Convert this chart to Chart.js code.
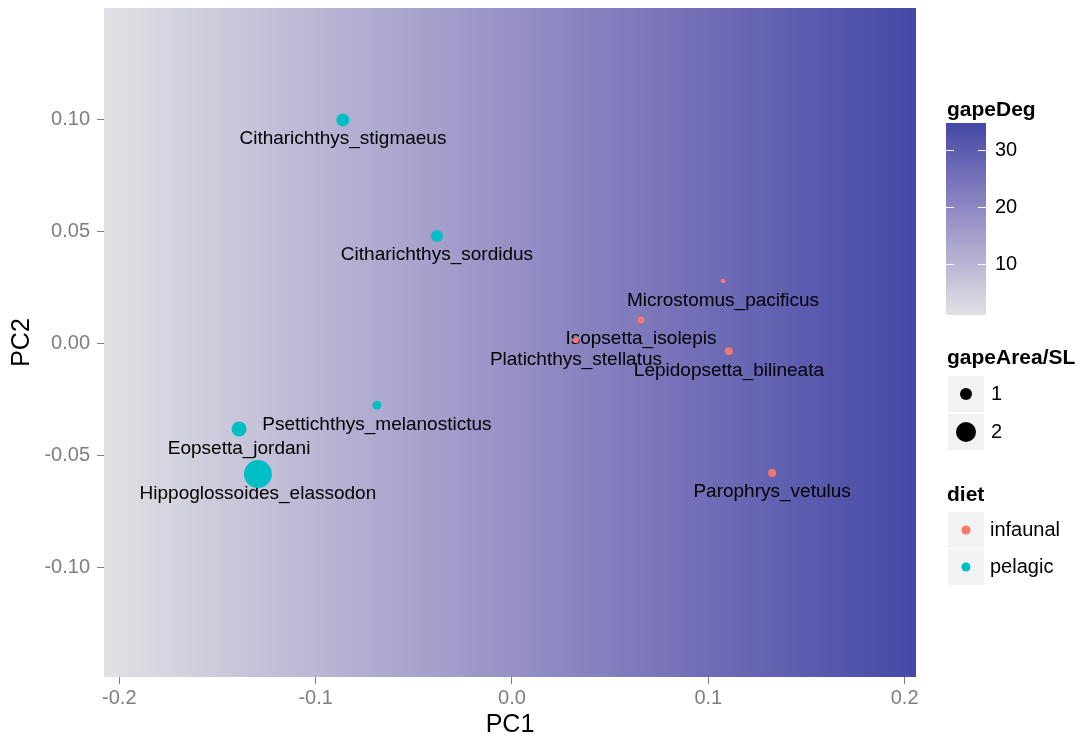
<!DOCTYPE html>
<html><head><meta charset="utf-8">
<script src="https://cdn.jsdelivr.net/npm/chart.js@4"></script>
<style>html,body{margin:0;padding:0;background:#fff}#wrap{width:1081px;height:740px;position:relative}</style>
</head><body><div id="wrap"><canvas id="c" width="1081" height="740"></canvas></div>
<script>
// ---- data ----
const species = ['Citharichthys_stigmaeus','Citharichthys_sordidus','Microstomus_pacificus','Isopsetta_isolepis','Platichthys_stellatus','Lepidopsetta_bilineata','Psettichthys_melanostictus','Eopsetta_jordani','Hippoglossoides_elassodon','Parophrys_vetulus'];
const pc1 = [-0.0861,-0.0382,0.1075,0.0657,0.0326,0.1105,-0.0688,-0.1390,-0.1294,0.1325];
const pc2 = [0.0996,0.0478,0.0277,0.0103,0.0013,-0.0036,-0.0277,-0.0384,-0.0585,-0.0580];
const diet = ['pelagic','pelagic','infaunal','infaunal','infaunal','infaunal','pelagic','pelagic','pelagic','infaunal'];
const gapeArea = [1.08,1.00,0.70,0.73,0.71,0.76,0.80,1.29,3.70,0.76];
const dietLevels = ['infaunal','pelagic'];
const dietColors = ['#F8766D','#00BFC4'];
const sizeBreaks = [1,2];
const xTicks = [-0.2,-0.1,0.0,0.1,0.2];
const yTicks = [-0.10,-0.05,0.00,0.05,0.10];
const gapeTicks = [10,20,30];
const rasterPC1 = [-0.2078,0.2058];   // left / right edge of background raster
const rasterGape = [1.1,34.7];        // gapeDeg at those edges
const gapeRange = [1.1,34.7];         // colourbar limits
const gapeLow = '#e1e1e4', gapeHigh = '#4249a6';
const labelNudge = -0.0086;

const FONT = "'Liberation Sans', Arial, Helvetica, sans-serif";

// ---- colour helpers (Lab interpolation like ggplot) ----
function hex2rgb(h){h=h.replace('#','');return [0,2,4].map(i=>parseInt(h.substr(i,2),16));}
function s2l(c){c/=255;return c<=0.04045?c/12.92:Math.pow((c+0.055)/1.055,2.4);}
function l2s(c){c=c<=0.0031308?12.92*c:1.055*Math.pow(c,1/2.4)-0.055;return Math.round(Math.max(0,Math.min(1,c))*255);}
function rgb2lab(rgb){const [r,g,b]=rgb.map(s2l);
 let X=(0.4124*r+0.3576*g+0.1805*b)/0.95047,Y=(0.2126*r+0.7152*g+0.0722*b),Z=(0.0193*r+0.1192*g+0.9505*b)/1.08883;
 const f=t=>t>0.008856?Math.cbrt(t):7.787*t+16/116;
 const fx=f(X),fy=f(Y),fz=f(Z);return [116*fy-16,500*(fx-fy),200*(fy-fz)];}
function lab2rgb(lab){const fy=(lab[0]+16)/116,fx=fy+lab[1]/500,fz=fy-lab[2]/200;
 const fi=t=>t*t*t>0.008856?t*t*t:(t-16/116)/7.787;
 const X=fi(fx)*0.95047,Y=fi(fy),Z=fi(fz)*1.08883;
 const r=3.2406*X-1.5372*Y-0.4986*Z,g=-0.9689*X+1.8758*Y+0.0415*Z,b=0.0557*X-0.2040*Y+1.0570*Z;
 return 'rgb('+l2s(r)+','+l2s(g)+','+l2s(b)+')';}
const labLo=rgb2lab(hex2rgb(gapeLow)), labHi=rgb2lab(hex2rgb(gapeHigh));
function gapeColor(v){const t=Math.max(0,Math.min(1,(v-gapeRange[0])/(gapeRange[1]-gapeRange[0])));
 return lab2rgb([0,1,2].map(i=>labLo[i]+(labHi[i]-labLo[i])*t));}

// ---- size scale (area palette, range 1..6) ----
const aMin=Math.min(...gapeArea), aMax=Math.max(...gapeArea);
function radiusFor(v){const t=Math.max(0,(v-aMin)/(aMax-aMin));return 2.33*(1+5*Math.sqrt(t));}

const datasets = dietLevels.map((d,k)=>({
  label:d,
  data: species.map((s,i)=>({x:pc1[i],y:pc2[i],area:gapeArea[i],name:s,d:diet[i]})).filter(p=>p.d===d),
  backgroundColor:dietColors[k], borderWidth:0, pointBorderWidth:0,
  pointRadius:c=>radiusFor(c.raw.area), pointHoverRadius:c=>radiusFor(c.raw.area)
}));

const bgPlugin={id:'bg',beforeDraw(chart){
  const {ctx,chartArea:a,scales:{x}}=chart;
  const x0=x.getPixelForValue(rasterPC1[0]), x1=x.getPixelForValue(rasterPC1[1]);
  const g=ctx.createLinearGradient(x0,0,x1,0);
  for(let i=0;i<=20;i++){const t=i/20;g.addColorStop(t,gapeColor(rasterGape[0]+(rasterGape[1]-rasterGape[0])*t));}
  ctx.save();ctx.fillStyle=g;ctx.fillRect(a.left,a.top,a.right-a.left,a.bottom-a.top);ctx.restore();
}};

const labelPlugin={id:'labels',beforeDatasetsDraw(chart){
  const {ctx,scales:{x,y}}=chart;
  ctx.save();ctx.font='19px '+FONT;ctx.fillStyle='#000';ctx.textAlign='center';ctx.textBaseline='middle';
  species.forEach((s,i)=>{ctx.fillText(s,x.getPixelForValue(pc1[i]),y.getPixelForValue(pc2[i]+labelNudge));});
  ctx.restore();
}};

const legendPlugin={id:'legendx',afterDraw(chart){
  const ctx=chart.ctx;ctx.save();
  const L=947;
  // gapeDeg colourbar
  ctx.fillStyle='#000';ctx.font='bold 21px '+FONT;ctx.textAlign='left';ctx.textBaseline='middle';
  ctx.fillText('gapeDeg',L,110);
  const cbL=946,cbR=986,cbT=123,cbB=315;
  const g=ctx.createLinearGradient(0,cbB,0,cbT);
  for(let i=0;i<=20;i++){const t=i/20;g.addColorStop(t,gapeColor(gapeRange[0]+(gapeRange[1]-gapeRange[0])*t));}
  ctx.fillStyle=g;ctx.fillRect(cbL,cbT,cbR-cbL,cbB-cbT);
  ctx.strokeStyle='#fff';ctx.lineWidth=1;ctx.font='20px '+FONT;ctx.fillStyle='#000';
  gapeTicks.forEach(v=>{const yy=Math.round(cbB-(v-gapeRange[0])/(gapeRange[1]-gapeRange[0])*(cbB-cbT))+0.5;
    ctx.beginPath();ctx.moveTo(cbL,yy);ctx.lineTo(cbL+8,yy);ctx.moveTo(cbR-8,yy);ctx.lineTo(cbR,yy);ctx.stroke();
    ctx.fillText(String(v),995,yy);});
  // size legend
  ctx.font='bold 21px '+FONT;ctx.fillText('gapeArea/SL',L,358);
  ctx.font='20px '+FONT;
  sizeBreaks.forEach((v,i)=>{const top=376+i*38;ctx.fillStyle='#f2f2f2';ctx.fillRect(948,top,36,36);
    ctx.fillStyle='#000';ctx.beginPath();ctx.arc(966,top+18,radiusFor(v),0,Math.PI*2);ctx.fill();
    ctx.fillText(String(v),991,top+18);});
  // diet legend
  ctx.font='bold 21px '+FONT;ctx.fillText('diet',L,495);
  ctx.font='20px '+FONT;
  dietLevels.forEach((d,i)=>{const top=512+i*37;ctx.fillStyle='#f2f2f2';ctx.fillRect(948,top,36,36);
    ctx.fillStyle=dietColors[i];ctx.beginPath();ctx.arc(966,top+18,4.5,0,Math.PI*2);ctx.fill();
    ctx.fillStyle='#000';ctx.fillText(d,990,top+18);});
  ctx.restore();
}};

function zeroPad(s){s.paddingTop=0;s.paddingBottom=0;s.paddingLeft=0;s.paddingRight=0;}

new Chart(document.getElementById('c'),{
  type:'scatter',
  data:{datasets},
  options:{
    responsive:false,animation:false,devicePixelRatio:1,
    layout:{autoPadding:false,padding:{left:0,right:165,top:8,bottom:0}},
    plugins:{legend:{display:false},tooltip:{enabled:false}},
    scales:{
      x:{type:'linear',min:rasterPC1[0],max:rasterPC1[1],
        afterFit(s){s.height=63;zeroPad(s);},
        afterBuildTicks(s){s.ticks=xTicks.map(v=>({value:v}));},
        ticks:{color:'#7f7f7f',font:{family:FONT,size:20},padding:2,callback:v=>Number(v).toFixed(1)},
        grid:{drawOnChartArea:false,tickLength:7,color:'#7f7f7f',lineWidth:1},
        border:{display:false},
        title:{display:true,text:'PC1',color:'#000',font:{family:FONT,size:25},padding:{top:0,bottom:0}}
      },
      y:{type:'linear',min:-0.1491,max:0.1496,
        afterFit(s){s.width=104;zeroPad(s);},
        afterBuildTicks(s){s.ticks=yTicks.map(v=>({value:v}));},
        ticks:{color:'#7f7f7f',font:{family:FONT,size:20},padding:7,callback:v=>Number(v).toFixed(2)},
        grid:{drawOnChartArea:false,tickLength:7,color:'#7f7f7f',lineWidth:1},
        border:{display:false},
        title:{display:true,text:'PC2',color:'#000',font:{family:FONT,size:25},padding:{top:7,bottom:0}}
      }
    }
  },
  plugins:[bgPlugin,labelPlugin,legendPlugin]
});
</script></body></html>
